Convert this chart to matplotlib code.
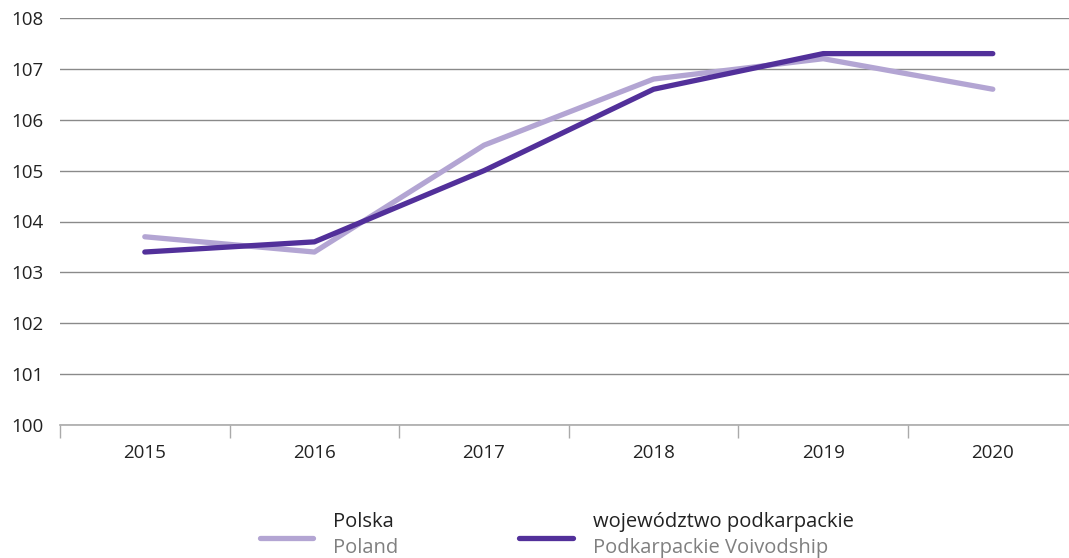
import numpy as np
import matplotlib.pyplot as plt
from matplotlib.lines import Line2D

years = ["2015", "2016", "2017", "2018", "2019", "2020"]
polska = [103.7, 103.4, 105.5, 106.8, 107.2, 106.6]
podkarpackie = [103.4, 103.6, 105.0, 106.6, 107.3, 107.3]
y_ticks = [100, 101, 102, 103, 104, 105, 106, 107, 108]

LIGHT = "#b3a5d3"
DARK = "#52309a"
FS = 13.5
LFS = 14.5

plt.rcParams['font.family'] = ['Open Sans', 'DejaVu Sans']

fig = plt.figure(figsize=(10.69, 5.58), dpi=100)
ax = fig.add_axes([60 / 1069, 1 - 425 / 558, 1 - 60 / 1069, (425 - 18) / 558])

x = np.arange(len(years))
ax.plot(x, polska, color=LIGHT, lw=3.8, solid_capstyle='round', solid_joinstyle='round', zorder=3)
ax.plot(x, podkarpackie, color=DARK, lw=3.8, solid_capstyle='round', solid_joinstyle='round', zorder=4)

ax.set_yticks(y_ticks)
ax.yaxis.grid(True, color="#8a8a8a", lw=1)
ax.set_axisbelow(True)
ax.tick_params(axis='y', length=0, pad=12, labelsize=FS, colors="#222222")

# boundaries as major ticks, labels on minor ticks
ax.set_xticks(np.arange(-0.5, len(years) - 1, 1.0))
ax.set_xticklabels([])
ax.set_xticks(x, minor=True)
ax.set_xticklabels(years, minor=True)
ax.tick_params(axis='x', which='major', length=9, color="#aaaaaa", width=1)
ax.tick_params(axis='x', which='minor', length=0, pad=14, labelsize=FS, colors="#222222")

ax.set_ylim(100, 108)
ax.set_xlim(-0.5, -0.5 + (1069 - 60) / 169.6)

for s in ['top', 'right', 'left']:
    ax.spines[s].set_visible(False)
ax.spines['bottom'].set_color("#aaaaaa")
ax.spines['bottom'].set_linewidth(1.2)

# legend
def legend_item(x0, x1, xt, color, top, bottom):
    y = 1 - 538 / 558
    fig.add_artist(Line2D([x0 / 1069, x1 / 1069], [y, y], color=color, lw=3.8,
                          solid_capstyle='round', transform=fig.transFigure))
    fig.text(xt / 1069, 1 - 522 / 558, top, fontsize=LFS, color="#222222", va='center', ha='left')
    fig.text(xt / 1069, 1 - 548 / 558, bottom, fontsize=LFS, color="#808080", va='center', ha='left')

legend_item(260, 313, 333, LIGHT, "Polska", "Poland")
legend_item(519, 573, 593, DARK, "województwo podkarpackie", "Podkarpackie Voivodship")

fig.savefig("out.png", dpi=100)
